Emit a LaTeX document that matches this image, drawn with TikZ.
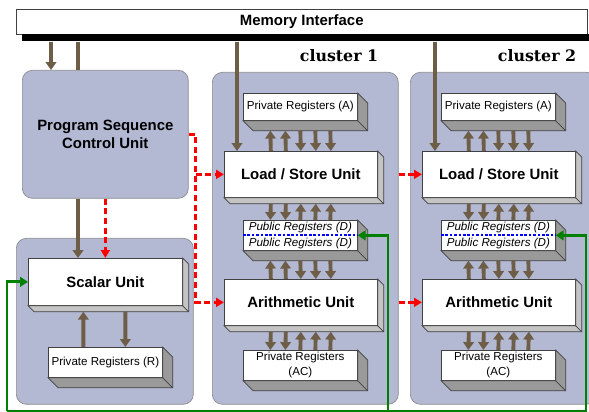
\documentclass[tikz,border=0pt]{standalone}
\usepackage{fontspec}
\setmainfont{Liberation Sans}
\newfontfamily\clusterfont{DejaVu Serif}
\usepackage{xcolor}
\usepackage{tikz}
\usetikzlibrary{calc,arrows.meta}

\definecolor{lav}{HTML}{B3B9D3}
\definecolor{busbrown}{HTML}{6E5E48}
\definecolor{sidelight}{HTML}{C4C4C4}
\definecolor{sidedark}{HTML}{9A9A9A}

\tikzset{
  cluster/.style={draw=gray!90, fill=lav, rounded corners=0.2cm, anchor=north west, inner sep=0},
  unit/.style={draw=gray!50!black, fill=white, anchor=north west, inner sep=0,
    minimum width=3.06cm, minimum height=0.92cm, font=\fontsize{8.5}{10}\selectfont\bfseries},
  reg/.style={draw=gray!50!black, fill=white, anchor=north west, inner sep=0, align=center,
    minimum width=2.28cm, minimum height=0.6cm, font=\fontsize{6.6}{8.6}\selectfont},
  bus/.style={busbrown, line width=2.2pt, -{Triangle[width=6pt,length=4.5pt]}},
  ctrl/.style={red, line width=1.5pt, dash pattern=on 3.5pt off 2pt, -{Triangle[width=5pt,length=4.5pt]}},
  fb/.style={green!50!black, line width=1.6pt, -{Triangle[width=5.5pt,length=4.5pt]}},
}

% 3D side faces of a box
\newcommand{\slab}[3]{%
  \filldraw[draw=gray!50!black, fill=#3] (#1.north east) -- ++(#2,#2) -- ($(#1.south east)+(#2,#2)$)
    -- ($(#1.south west)+(#2,#2)$) -- (#1.south west) -- (#1.south east) -- cycle;
  \draw[gray!50!black] (#1.south east) -- ++(#2,#2);}

\begin{document}
\begin{tikzpicture}[x=0.02cm, y=-0.02cm]
    \useasboundingbox (0,0) rectangle (589,412);

    % Backgrounds
    \node[cluster, minimum width=3.54cm, minimum height=3.32cm] (scl) at (16,238) {};
    \node[cluster, minimum width=3.72cm, minimum height=6.64cm] (cl1) at (212,72) {};
    \node[cluster, minimum width=3.72cm, minimum height=6.64cm] (cl2) at (410,72) {};
    \node[font=\clusterfont\fontsize{9}{10}\selectfont\bfseries] (lab1) at (339,56) {cluster 1};
    \node[font=\clusterfont\fontsize{9}{10}\selectfont\bfseries] (lab2) at (537,56) {cluster 2};

    % Memory interface
    \node[draw=gray!50!black, fill=white, anchor=north west, inner sep=0, minimum width=11.42cm,
      minimum height=0.5cm, font=\fontsize{8.5}{10}\selectfont\bfseries] (mem) at (16,9) {Memory Interface};
    \node[fill=black, anchor=north west, inner sep=0, minimum width=11.4cm, minimum height=0.14cm] (membar) at (22,34) {};

    % Program sequence control
    \node[cluster, minimum width=3.32cm, minimum height=2.56cm, align=center,
      font=\fontsize{8.5}{10.5}\selectfont\bfseries] (pscu) at (22,70) {Program Sequence\\Control Unit};

    % Scalar part
    \node[unit, minimum width=3.08cm, minimum height=0.94cm] (scalar) at (28,258) {Scalar Unit};
    \slab{scalar}{6}{sidelight}
    \node[reg] (prr) at (48,347) {Private Registers (R)};
    \slab{prr}{10}{sidedark}

    % Clusters
    \foreach \c/\x in {1/0, 2/198} {
      \node[reg, minimum height=0.54cm] (pra\c) at (243+\x,93) {Private Registers (A)};
      \slab{pra\c}{10}{sidedark}
      \node[unit] (lsu\c) at (224+\x,151) {Load / Store Unit};
      \slab{lsu\c}{6}{sidelight}
      \node[reg, font=\fontsize{6.6}{9}\selectfont\itshape] (pubd\c) at (243+\x,220) {Public Registers (D)\\Public Registers (D)};
      \slab{pubd\c}{10}{sidedark}
      \node[unit] (au\c) at (224+\x,279) {Arithmetic Unit};
      \slab{au\c}{6}{sidelight}
      \node[reg] (prac\c) at (243+\x,350) {Private Registers\\(AC)};
      \slab{prac\c}{10}{sidedark}

      \foreach \dx in {-30,-15} {
        \draw[bus] ($(lsu\c.north)+(\dx,0)$) -- ($(pra\c.south)+(\dx,10)$);
        \draw[bus] ($(lsu\c.south)+(\dx,6)$) -- ($(pubd\c.north)+(\dx,0)$);
        \draw[bus] ($(au\c.north)+(\dx,0)$) -- ($(pubd\c.south)+(\dx,10)$);
        \draw[bus] ($(au\c.south)+(\dx,6)$) -- ($(prac\c.north)+(\dx,0)$);
      }
      \foreach \dx in {0,15,30} {
        \draw[bus] ($(pra\c.south)+(\dx,10)$) -- ($(lsu\c.north)+(\dx,0)$);
        \draw[bus] ($(pubd\c.north)+(\dx,0)$) -- ($(lsu\c.south)+(\dx,6)$);
        \draw[bus] ($(pubd\c.south)+(\dx,10)$) -- ($(au\c.north)+(\dx,0)$);
        \draw[bus] ($(prac\c.north)+(\dx,0)$) -- ($(au\c.south)+(\dx,6)$);
      }
      \coordinate (m\c) at ($(lsu\c.north west)+(13,0)$);
      \draw[bus] (m\c |- membar.south) -- (m\c);
    }

    % Memory <-> sequencer
    \coordinate (p1) at ($(pscu.north west)+(29,0)$);
    \coordinate (p2) at ($(pscu.north west)+(56,0)$);
    \draw[bus] (p1 |- membar.south) -- (p1);
    \draw[busbrown, line width=2.2pt] (p2) -- (p2 |- membar.south);
    \draw[bus] (pscu.south -| p2) -- (scalar.north -| p2);

    % Scalar <-> registers
    \draw[bus] ($(prr.north)+(-22,0)$) -- ($(scalar.south)+(-22,6)$);
    \draw[bus] ($(scalar.south)+(20,6)$) -- ($(prr.north)+(20,0)$);

    % Control
    \draw[ctrl] (pscu.south) -- (scalar.north -| pscu.south);
    \coordinate (rj) at ($(pscu.east)+(7,0)$);
    \draw[ctrl] (pscu.east) -- (rj) |- (au1.west);
    \draw[ctrl] (rj |- lsu1.west) -- (lsu1.west);
    \draw[ctrl, shorten <=12pt] (lsu1.east) -- (lsu2.west);
    \draw[ctrl, shorten <=12pt] (au1.east) -- (au2.west);

    % Feedback
    \coordinate (gl) at (7,411);
    \coordinate (gm) at (388,411);
    \coordinate (gr) at (586,411);
    \draw[blue, line width=1pt, dash pattern=on 1.5pt off 1pt] (pubd1.west) -- (pubd1.east);
    \draw[blue, line width=1pt, dash pattern=on 1.5pt off 1pt] (pubd2.west) -- (pubd2.east);
    \draw[fb] (gl) |- (scalar.west);
    \draw[fb] (gl) -- (gr) |- (pubd2.east);
    \draw[fb] (gm) |- (pubd1.east);
\end{tikzpicture}
\end{document}
